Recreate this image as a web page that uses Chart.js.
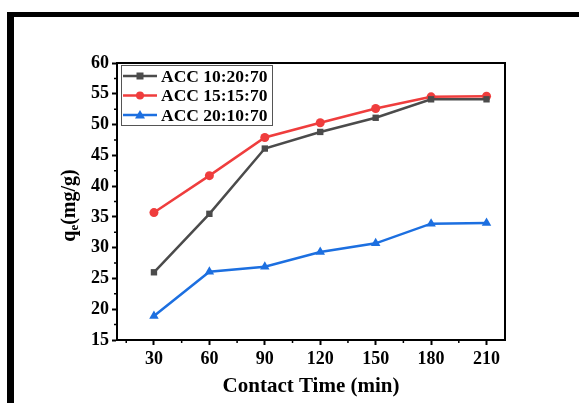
<!DOCTYPE html>
<html>
<head>
<meta charset="utf-8">
<script src="https://cdn.jsdelivr.net/npm/chart.js@4.4.0/dist/chart.umd.min.js"></script>
<style>
  html, body { margin: 0; padding: 0; background: #fff; }
  #wrap { width: 579px; height: 403px; position: relative; }
</style>
</head>
<body>
<div id="wrap"><canvas id="kinetics"></canvas></div>
<script>
// contact time (min)
const contactTimes = [30, 60, 90, 120, 150, 180, 210];
// adsorption capacity qe (mg/g) for each blend
const acc102070 = [26.0, 35.5, 46.1, 48.8, 51.1, 54.1, 54.1];
const acc151570 = [35.7, 41.7, 47.9, 50.3, 52.6, 54.5, 54.6];
const acc201070 = [18.9, 26.1, 26.9, 29.3, 30.7, 33.9, 34.0];
const seriesNames = ['ACC 10:20:70', 'ACC 15:15:70', 'ACC 20:10:70'];
const xTicks = [30, 60, 90, 120, 150, 180, 210];
const yTicks = [15, 20, 25, 30, 35, 40, 45, 50, 55, 60];

const FONT = "'Liberation Serif', 'Times New Roman', serif";
const colors = ['#4b4b4b', '#ef3d3d', '#1c6fe0'];
const markers = ['rect', 'circle', 'triangle'];

// page frame + plot box + minor ticks + legend + y title
const decorations = {
  id: 'decorations',
  beforeDraw(chart) {
    const ctx = chart.ctx;
    ctx.save();
    ctx.fillStyle = '#000';
    ctx.fillRect(7, 12, 572, 5);
    ctx.fillRect(7, 12, 7, 391);
    ctx.restore();
  },
  afterDraw(chart) {
    const { ctx, chartArea: a, scales } = chart;
    ctx.save();
    // box around plot
    ctx.strokeStyle = '#000';
    ctx.lineWidth = 2;
    ctx.strokeRect(a.left, a.top, a.right - a.left, a.bottom - a.top);

    // minor ticks
    ctx.lineWidth = 1.5;
    ctx.beginPath();
    for (let v = 17.5; v < 60; v += 5) {
      const y = scales.y.getPixelForValue(v);
      ctx.moveTo(a.left, y); ctx.lineTo(a.left - 3, y);
    }
    for (let v = 15; v < 220; v += 30) {
      const x = scales.x.getPixelForValue(v);
      ctx.moveTo(x, a.bottom); ctx.lineTo(x, a.bottom + 3);
    }
    ctx.stroke();

    // legend box
    const lx = a.left + 4, ly = a.top + 2, lw = 151, lh = 60;
    ctx.fillStyle = '#fff';
    ctx.fillRect(lx, ly, lw, lh);
    ctx.strokeStyle = '#555';
    ctx.lineWidth = 1;
    ctx.strokeRect(lx + 0.5, ly + 0.5, lw, lh);
    chart.data.datasets.forEach((ds, i) => {
      const cy = ly + 11 + i * 19.5;
      ctx.strokeStyle = ds.borderColor;
      ctx.lineWidth = 2.5;
      ctx.beginPath();
      ctx.moveTo(lx + 2, cy); ctx.lineTo(lx + 36, cy);
      ctx.stroke();
      ctx.fillStyle = ds.borderColor;
      const mx = lx + 19;
      ctx.beginPath();
      if (ds.pointStyle === 'rect') ctx.rect(mx - 3.5, cy - 3.5, 7, 7);
      else if (ds.pointStyle === 'circle') ctx.arc(mx, cy, 4, 0, Math.PI * 2);
      else { ctx.moveTo(mx, cy - 5); ctx.lineTo(mx + 5, cy + 3.5); ctx.lineTo(mx - 5, cy + 3.5); ctx.closePath(); }
      ctx.fill();
      ctx.fillStyle = '#000';
      ctx.font = 'bold 17.5px ' + FONT;
      ctx.textBaseline = 'middle';
      ctx.textAlign = 'left';
      ctx.fillText(ds.label, lx + 40, cy + 1);
    });

    // y axis title with subscript
    ctx.translate(70, (a.top + a.bottom) / 2 + 4);
    ctx.rotate(-Math.PI / 2);
    ctx.fillStyle = '#000';
    ctx.textBaseline = 'middle';
    ctx.textAlign = 'left';
    const big = 'bold 20px ' + FONT, small = 'bold 13px ' + FONT;
    ctx.font = big;
    const wq = ctx.measureText('q').width;
    const wr = ctx.measureText('(mg/g)').width;
    ctx.font = small;
    const we = ctx.measureText('e').width;
    let x0 = -(wq + we + wr) / 2;
    ctx.font = big;
    ctx.fillText('q', x0, 0);
    ctx.font = small;
    ctx.fillText('e', x0 + wq, 5);
    ctx.font = big;
    ctx.fillText('(mg/g)', x0 + wq + we, 0);
    ctx.restore();
  }
};

const seriesData = [acc102070, acc151570, acc201070];

new Chart(document.getElementById('kinetics'), {
  type: 'line',
  data: {
    datasets: seriesData.map((vals, i) => ({
      label: seriesNames[i],
      data: contactTimes.map((t, j) => ({ x: t, y: vals[j] })),
      borderColor: colors[i],
      backgroundColor: colors[i],
      borderWidth: 2.5,
      pointStyle: markers[i],
      pointRadius: i === 2 ? 5.5 : 4.5,
      pointBorderWidth: 0,
      tension: 0
    }))
  },
  options: {
    responsive: true,
    maintainAspectRatio: false,
    animation: false,
    layout: { padding: { top: 63, right: 74, left: 0, bottom: 0 } },
    plugins: { legend: { display: false }, tooltip: { enabled: false } },
    scales: {
      x: {
        type: 'linear',
        min: 10,
        max: 220,
        afterBuildTicks: s => { s.ticks = xTicks.map(v => ({ value: v })); },
        afterFit: s => { s.height = 63; },
        grid: { drawOnChartArea: false, drawTicks: true, tickLength: 5, tickWidth: 2, tickColor: '#000' },
        border: { color: '#000', width: 2 },
        ticks: { color: '#000', font: { family: FONT, size: 18, weight: 'bold' }, padding: 4, maxRotation: 0 },
        title: {
          display: true,
          text: 'Contact Time (min)',
          color: '#000',
          font: { family: FONT, size: 21, weight: 'bold' },
          padding: { top: 2, bottom: 4 }
        }
      },
      y: {
        min: 15,
        max: 60,
        afterBuildTicks: s => { s.ticks = yTicks.map(v => ({ value: v })); },
        afterFit: s => { s.width = 117; },
        grid: { drawOnChartArea: false, drawTicks: true, tickLength: 5, tickWidth: 2, tickColor: '#000' },
        border: { color: '#000', width: 2 },
        ticks: { color: '#000', font: { family: FONT, size: 18, weight: 'bold' }, padding: 3 }
      }
    }
  },
  plugins: [decorations]
});
</script>
</body>
</html>
